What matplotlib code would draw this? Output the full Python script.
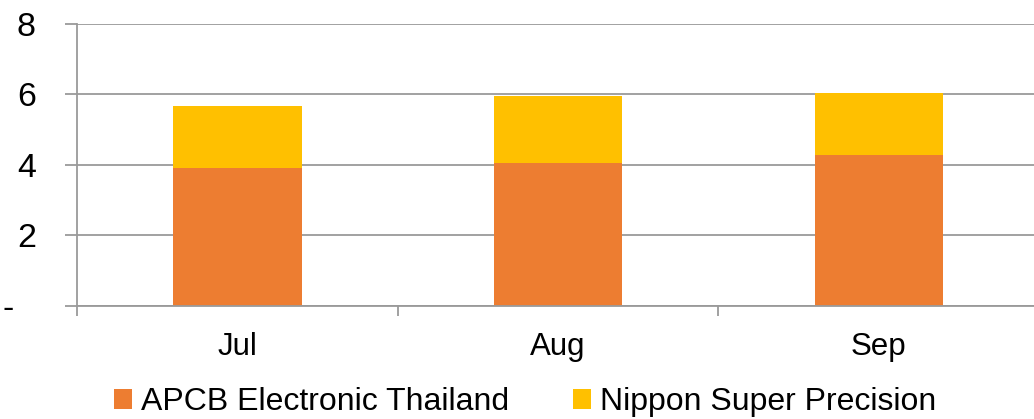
import matplotlib
matplotlib.use("Agg")
import matplotlib.pyplot as plt
import matplotlib.transforms as mtransforms
import numpy as np

plt.rcParams['font.family'] = ['Liberation Sans', 'DejaVu Sans']

months = ['Jul', 'Aug', 'Sep']
apcb = [3.91, 4.06, 4.28]      # APCB Electronic Thailand
nippon = [1.76, 1.90, 1.75]    # Nippon Super Precision, stacked on top
ytick_vals = [0, 2, 4, 6, 8]
ytick_labels = ['-', '2', '4', '6', '8']

orange = '#ED7D31'
yellow = '#FFC000'
grid_grey = '#9a9a9a'

fig = plt.figure(figsize=(10.34, 4.19), dpi=100)
ax = fig.add_axes([0.0745, 0.2704, 0.9304, 0.6723])

x = np.arange(len(months))
ax.bar(x, apcb, width=0.4, color=orange, label='APCB Electronic Thailand', zorder=2)
ax.bar(x, nippon, width=0.4, bottom=apcb, color=yellow, label='Nippon Super Precision', zorder=2)

ax.set_xlim(-0.5, len(months) - 0.5)
ax.set_ylim(0, 8)

# y axis: grid lines at each tick, ticks stick out left of the axis
ax.set_yticks(ytick_vals)
ax.set_yticklabels(ytick_labels)
ax.yaxis.grid(True, color=grid_grey, linewidth=1.3, zorder=0)
ax.tick_params(axis='y', length=8.6, width=1.3, color=grid_grey, direction='out',
               labelsize=24.5, pad=21)
ax.set_axisbelow(True)

# x axis: labels at category centres, tick marks at category boundaries
ax.set_xticks(x)
ax.set_xticklabels(months)
ax.set_xticks(np.arange(len(months) + 1) - 0.5, minor=True)
ax.tick_params(axis='x', which='major', length=0, labelsize=22.5, pad=19)
ax.tick_params(axis='x', which='minor', length=7.2, width=1.3, color=grid_grey, direction='out')

for side in ['top', 'right']:
    ax.spines[side].set_visible(False)
for side in ['left', 'bottom']:
    ax.spines[side].set_color(grid_grey)
    ax.spines[side].set_linewidth(1.3)

# the zero label ("-") sits further left than the digits
zero_lbl = ax.get_yticklabels()[0]
zero_lbl.set_transform(zero_lbl.get_transform() +
                       mtransforms.ScaledTranslation(-0.22, 0, fig.dpi_scale_trans))

fig.legend(loc='center', bbox_to_anchor=(0.508, 0.04), ncol=2, frameon=False,
           fontsize=23, handlelength=0.55, handleheight=0.55, handletextpad=0.3,
           columnspacing=2.0, borderpad=0.2)

fig.savefig('out.png', dpi=100)
